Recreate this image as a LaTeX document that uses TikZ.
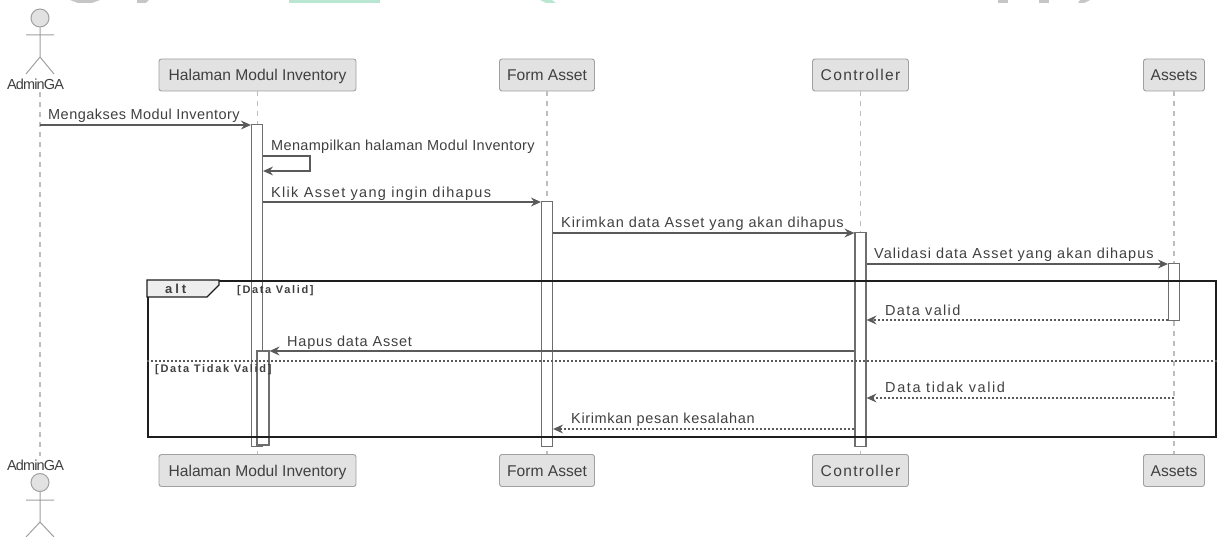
\documentclass[tikz,border=0pt]{standalone}
\usepackage{fontspec}
\setmainfont{Liberation Sans}
\usetikzlibrary{arrows.meta}
\definecolor{partfill}{HTML}{E2E2E2}
\definecolor{partline}{HTML}{A0A0A0}
\definecolor{lifeline}{HTML}{BEBEBE}
\definecolor{barline}{HTML}{6E6E6E}
\definecolor{msgline}{HTML}{5A5A5A}
\definecolor{txt}{HTML}{404040}
\definecolor{frameline}{HTML}{1E1E1E}
\newcommand{\lsp}[1]{\addfontfeature{LetterSpace=#1}}
\tikzset{
  x=1pt,y=-1pt,
  part/.style={draw=partline,fill=partfill,rounded corners=2.5pt,line width=.9pt,minimum height=32pt,inner sep=0pt,text=txt,text height=12pt,text depth=0pt,font=\fontsize{15.6}{17}\selectfont},
  lifel/.style={draw=lifeline,line width=1.1pt,dash pattern=on 5pt off 5pt},
  bar/.style={draw=barline,fill=white,line width=1.2pt,inner sep=0pt},
  msg/.style={draw=msgline,line width=1.1pt,-{Stealth[length=10pt,width=9pt,inset=3.5pt]}},
  ret/.style={msg,dash pattern=on 2pt off 2pt},
  lbl/.style={text=txt,inner sep=0pt,anchor=base west,font=\fontsize{14.5}{16}\selectfont},
  small/.style={text=txt,inner sep=0pt,anchor=base west,font=\bfseries\fontsize{11}{13}\selectfont\lsp{15}},
  actorl/.style={text=txt,inner sep=0pt,font=\fontsize{14.5}{16}\selectfont\lsp{-6}},
  stick/.style={draw=partline,line width=1pt},
  headc/.style={circle,draw=partline,fill=partfill,line width=1pt,minimum size=18pt,inner sep=0pt},
}
\begin{document}
\begin{tikzpicture}
\useasboundingbox (0,0) rectangle (1219,537);
% faint shapes cut off by the top edge
\fill[gray!45] (70,0) -- (100,0) -- (92,3) -- (78,3) -- cycle;
\fill[gray!45] (137,0) -- (149,0) -- (146,3) -- (137,3) -- cycle;
\fill[green!30!teal!28] (289,0) rectangle (380,3);
\fill[green!30!teal!28] (540,0) -- (552,0) -- (556,3) -- (546,3) -- cycle;
\fill[gray!45] (998,0) rectangle (1008,3);
\fill[gray!45] (1039,0) rectangle (1049,3);
\fill[gray!45] (1080,0) -- (1090,0) -- (1084,3) -- (1078,3) -- cycle;
% participants
\node[part,minimum width=197pt] (h1) at (257.5,75) {Halaman Modul Inventory};
\node[part,minimum width=95pt] (f1) at (547,75) {Form Asset};
\node[part,minimum width=96pt] (c1) at (860.5,75) {\lsp{8.5}Controller};
\node[part,minimum width=61pt] (a1) at (1174,75) {Assets};
\node[part,minimum width=197pt] (h2) at (257.5,470.5) {Halaman Modul Inventory};
\node[part,minimum width=95pt] (f2) at (547,470.5) {Form Asset};
\node[part,minimum width=96pt] (c2) at (860.5,470.5) {\lsp{8.5}Controller};
\node[part,minimum width=61pt] (a2) at (1174,470.5) {Assets};
% actor labels
\node[actorl] (u1) at (35.5,84) {AdminGA};
\node[actorl] (u2) at (35.5,465) {AdminGA};
% lifelines
\draw[lifel] (40,92) coordinate (ut) -- (40,456) coordinate (ub);
\draw[lifel] (h1.south) -- (h2.north);
\draw[lifel] (f1.south) -- (f2.north);
\draw[lifel] (c1.south) -- (c2.north);
\draw[lifel] (a1.south) -- (a2.north);
% activation bars
\node[bar,minimum width=11pt,minimum height=322pt] (bh) at (257,285.5) {};
\node[bar,minimum width=11pt,minimum height=245pt] (bf) at (547,324) {};
\node[bar,minimum width=11pt,minimum height=214pt] (bc) at (860.5,339.5) {};
\node[bar,minimum width=11pt,minimum height=57pt] (ba) at (1174,292) {};
\node[bar,minimum width=12pt,minimum height=94pt] (bh2) at (263,398) {};
% alt frame
\node[draw=frameline,line width=2pt,minimum width=1068pt,minimum height=156pt,inner sep=0pt] (frame) at (682,359) {};
\path[draw=frameline,fill=partfill!60!white,line width=1.4pt] (frame.north west) -- ++(72,0) -- ++(0,5) -- ++(-12,12) -- ++(-60,0) -- cycle;
\node[text=txt,inner sep=0pt,anchor=base west,font=\bfseries\fontsize{13}{15}\selectfont\lsp{22}] (alt) at (165,294) {alt};
\node[small] (g1) at (237,294) {[Data Valid]};
\node[small] (g2) at (155,373) {[Data Tidak Valid]};
\draw[draw=msgline,line width=1.1pt,dash pattern=on 2pt off 2pt] (frame.west |- 0,361) coordinate (dl) -- (frame.east |- 0,361) coordinate (dr);
% messages
\coordinate (m0) at (40,125);
\draw[msg] (m0) -- (m0 -| bh.west);
\node[lbl] (t1) at (48,120) {\lsp{3.2}Mengakses Modul Inventory};
\draw[msg] (bh.east |- 0,156) -- (310,156) -- (310,171) -- (bh.east |- 0,171);
\node[lbl] (t2) at (271,151) {\lsp{2.3}Menampilkan halaman Modul Inventory};
\draw[msg] (bh.east |- 0,202) -- (bf.west |- 0,202);
\node[lbl] (t3) at (271,198) {\lsp{9}Klik Asset yang ingin dihapus};
\draw[msg] (bf.east |- 0,233) -- (bc.west |- 0,233);
\node[lbl] (t4) at (561,228) {\lsp{6.2}Kirimkan data Asset yang akan dihapus};
\draw[msg] (bc.east |- 0,264) -- (ba.west |- 0,264);
\node[lbl] (t5) at (874,259) {\lsp{7}Validasi data Asset yang akan dihapus};
\draw[ret] (ba.west |- 0,320) -- (bc.east |- 0,320);
\node[lbl] (t6) at (885,316) {\lsp{9.2}Data valid};
\draw[msg] (bc.west |- 0,351) -- (bh2.east |- 0,351);
\node[lbl] (t7) at (287,347) {\lsp{5.5}Hapus data Asset};
\draw[ret] (a1 |- 0,398) -- (bc.east |- 0,398);
\node[lbl] (t8) at (885,393) {\lsp{11}Data tidak valid};
\draw[ret] (bc.west |- 0,429) -- (bf.east |- 0,429);
\node[lbl] (t9) at (571,424) {\lsp{4.4}Kirimkan pesan kesalahan};
% actors
\node[headc] (hd1) at (40,18) {};
\draw[stick] (hd1.south) -- (40,57) coordinate (w1) -- (26,74) (w1) -- (54,74) (26,35) -- (54,35);
\node[headc] (hd2) at (40,482.5) {};
\draw[stick] (hd2.south) -- (40,522) coordinate (w2) -- (26,537) (w2) -- (54,537) (26,500) -- (54,500);
\end{tikzpicture}
\end{document}
